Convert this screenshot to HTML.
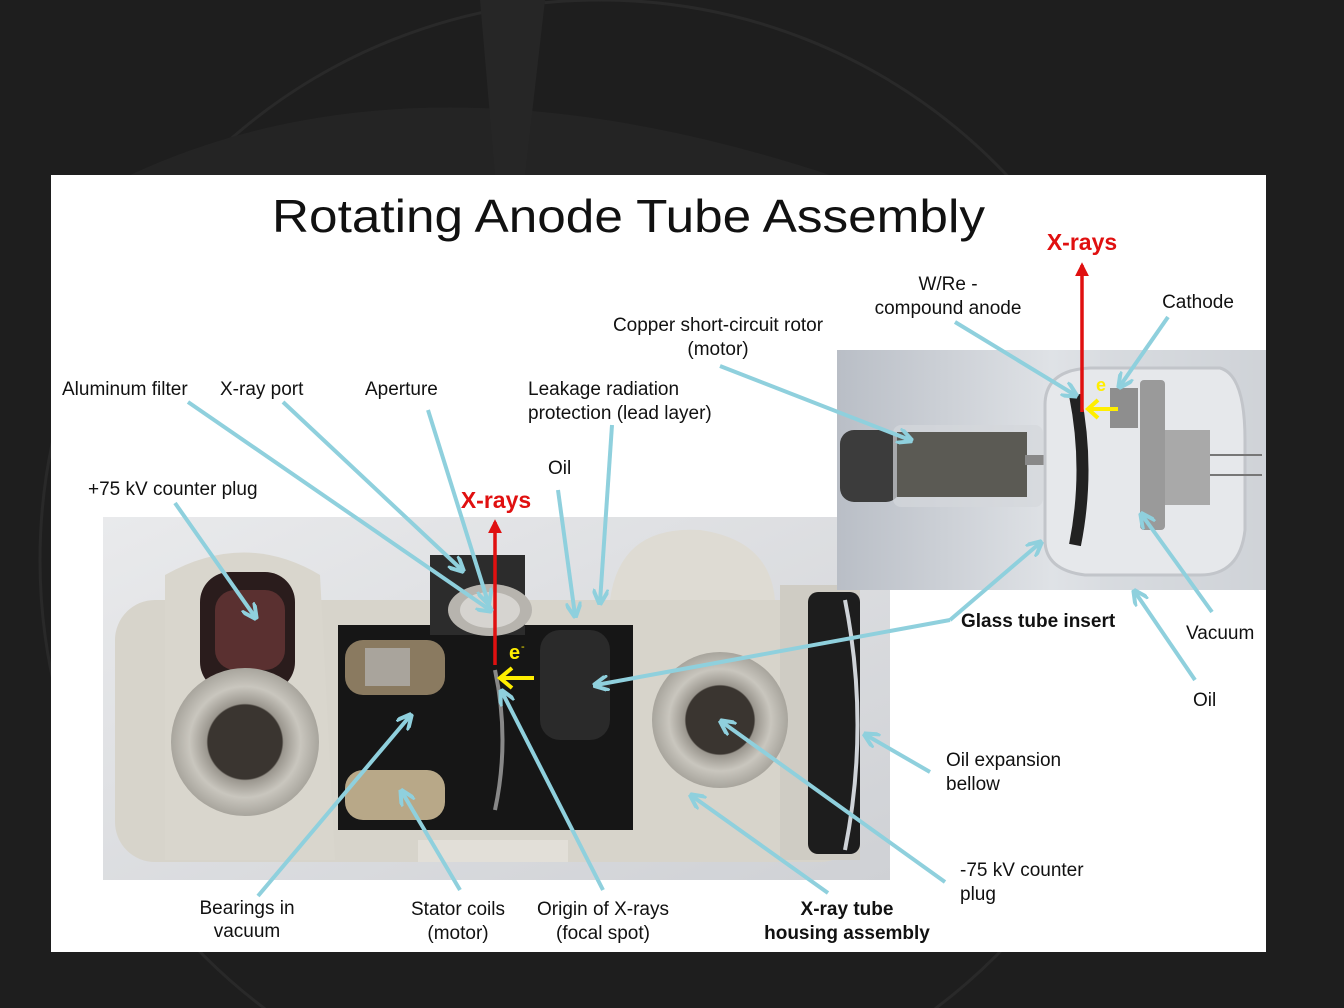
<!DOCTYPE html>
<html><head><meta charset="utf-8"><style>
html,body{margin:0;padding:0;background:#1e1e1e;width:1344px;height:1008px;overflow:hidden;}
svg{display:block;position:absolute;left:0;top:0;}
text{font-family:"Liberation Sans",Arial,sans-serif;fill:#111;}
</style></head><body>
<svg width="1344" height="1008" viewBox="0 0 1344 1008" xmlns="http://www.w3.org/2000/svg">
<defs>
<marker id="ab" viewBox="0 0 10 10" refX="8" refY="5" markerWidth="4" markerHeight="4" orient="auto"><path d="M0,0 L10,5 L0,10" fill="none" stroke="#8fd0dd" stroke-width="2.5"/></marker>
<marker id="ar" viewBox="0 0 10 10" refX="8" refY="5" markerWidth="4" markerHeight="4" orient="auto"><path d="M0,0 L10,5 L0,10 z" fill="#e01010"/></marker>
<linearGradient id="bg1" x1="0" y1="0" x2="1" y2="1"><stop offset="0" stop-color="#e9eaec"/><stop offset="1" stop-color="#cfd1d5"/></linearGradient>
<linearGradient id="bg2" x1="0" y1="0" x2="1" y2="0"><stop offset="0" stop-color="#b9bec6"/><stop offset="0.5" stop-color="#dfe2e6"/><stop offset="1" stop-color="#c9ccd2"/></linearGradient>
<radialGradient id="port"><stop offset="0" stop-color="#3a3530"/><stop offset="0.5" stop-color="#3a3530"/><stop offset="0.52" stop-color="#9a968e"/><stop offset="0.75" stop-color="#c9c6be"/><stop offset="1" stop-color="#a8a59d"/></radialGradient>
</defs>
<rect width="1344" height="1008" fill="#1e1e1e"/>
<circle cx="600" cy="560" r="560" fill="none" stroke="#292929" stroke-width="3"/>
<path d="M130 175 Q420 40 830 175" fill="#242424"/>
<path d="M480 0 L545 0 L525 175 L495 175 Z" fill="#262626"/>
<rect x="51" y="175" width="1215" height="777" fill="#fff"/>
<text x="272" y="232" font-size="46" textLength="713" lengthAdjust="spacingAndGlyphs">Rotating Anode Tube Assembly</text>

<rect x="103" y="517" width="787" height="363" fill="url(#bg1)"/>
<rect x="115" y="600" width="745" height="262" rx="40" fill="#d7d4cb"/>
<path d="M165 575 Q245 530 320 575 L335 860 L165 860 Z" fill="#d9d6cd"/>
<rect x="200" y="572" width="95" height="120" rx="30" fill="#2a1c1c"/>
<rect x="215" y="590" width="70" height="80" rx="20" fill="#5a3030"/>
<circle cx="245" cy="742" r="74" fill="url(#port)"/>
<path d="M610 600 Q620 525 700 530 Q770 540 775 600 Z" fill="#dedbd3"/>
<rect x="338" y="625" width="295" height="205" fill="#161616"/>
<rect x="345" y="640" width="100" height="55" rx="18" fill="#8a7a60"/>
<rect x="365" y="648" width="45" height="38" fill="#a9a49c"/>
<rect x="345" y="770" width="100" height="50" rx="18" fill="#b8a888"/>
<rect x="430" y="555" width="95" height="80" fill="#2c2c2c"/>
<ellipse cx="490" cy="610" rx="42" ry="26" fill="#b7b4ae"/>
<ellipse cx="490" cy="610" rx="30" ry="18" fill="#d6d4d0"/>
<path d="M495 670 Q510 740 495 810" stroke="#888" stroke-width="4" fill="none"/>
<rect x="540" y="630" width="70" height="110" rx="20" fill="#2a2a2a"/>
<rect x="780" y="585" width="80" height="275" fill="#cfccc4"/>
<rect x="808" y="592" width="52" height="262" rx="10" fill="#1d1d1d"/>
<path d="M845 600 Q870 725 845 850" stroke="#cfd3d8" stroke-width="4" fill="none"/>
<circle cx="720" cy="720" r="68" fill="url(#port)"/>
<rect x="418" y="840" width="150" height="22" fill="#e2dfd8"/>

<rect x="837" y="350" width="429" height="240" fill="url(#bg2)"/>
<rect x="1100" y="350" width="166" height="240" fill="#d6d9de" opacity="0.5"/>
<rect x="840" y="430" width="60" height="72" rx="14" fill="#3c3c3c"/>
<rect x="893" y="425" width="150" height="82" rx="8" fill="#d4d7db" opacity="0.7"/>
<rect x="897" y="432" width="130" height="65" fill="#5b5a54"/>
<rect x="1025" y="455" width="70" height="10" fill="#888"/>
<path d="M1045 405 Q1045 370 1090 368 L1220 368 Q1245 375 1245 440 L1245 530 Q1240 575 1200 575 L1085 575 Q1045 570 1045 540 Z" fill="#e6e8eb" stroke="#c2c5ca" stroke-width="3"/>
<path d="M1075 395 Q1090 470 1075 545" stroke="#222" stroke-width="12" fill="none"/>
<rect x="1110" y="388" width="28" height="40" fill="#8e8e8e"/>
<rect x="1140" y="380" width="25" height="150" rx="4" fill="#9a9a9a"/>
<rect x="1165" y="430" width="45" height="75" fill="#a9a9a9"/>
<line x1="1210" y1="455" x2="1262" y2="455" stroke="#777" stroke-width="2"/>
<line x1="1210" y1="475" x2="1262" y2="475" stroke="#777" stroke-width="2"/>

<line x1="495" y1="665" x2="495" y2="522" stroke="#e01010" stroke-width="3.5" marker-end="url(#ar)"/>
<line x1="1082" y1="412" x2="1082" y2="265" stroke="#e01010" stroke-width="3.5" marker-end="url(#ar)"/>
<text x="496" y="508" font-size="23" font-weight="bold" text-anchor="middle" style="fill:#e01010">X-rays</text>
<text x="1082" y="250" font-size="23" font-weight="bold" text-anchor="middle" style="fill:#e01010">X-rays</text>
<text x="509" y="659" font-size="20" font-weight="bold" style="fill:#ffee00">e</text><text x="521" y="650" font-size="11" style="fill:#ffee00">-</text>
<path d="M512 668 L500 678 L512 688 M502 678 L534 678" stroke="#ffee00" stroke-width="4" fill="none"/>
<text x="1096" y="391" font-size="18" font-weight="bold" style="fill:#ffee00">e</text>
<path d="M1098 400 L1088 409 L1098 418 M1090 409 L1118 409" stroke="#ffee00" stroke-width="4" fill="none"/>

<g stroke="#8fd0dd" stroke-width="4" fill="none" marker-end="url(#ab)">
<line x1="188" y1="402" x2="490" y2="610"/>
<line x1="283" y1="402" x2="462" y2="570"/>
<line x1="428" y1="410" x2="488" y2="602"/>
<line x1="612" y1="425" x2="600" y2="602"/>
<line x1="558" y1="490" x2="575" y2="615"/>
<line x1="175" y1="503" x2="255" y2="617"/>
<line x1="720" y1="366" x2="910" y2="440"/>
<line x1="955" y1="322" x2="1075" y2="395"/>
<line x1="1168" y1="317" x2="1120" y2="386"/>
<line x1="950" y1="620" x2="1040" y2="543"/>
<line x1="950" y1="620" x2="596" y2="685"/>
<line x1="1212" y1="612" x2="1142" y2="515"/>
<line x1="1195" y1="680" x2="1135" y2="592"/>
<line x1="930" y1="772" x2="866" y2="735"/>
<line x1="945" y1="882" x2="722" y2="722"/>
<line x1="828" y1="893" x2="692" y2="796"/>
<line x1="603" y1="890" x2="502" y2="692"/>
<line x1="460" y1="890" x2="402" y2="792"/>
<line x1="258" y1="896" x2="410" y2="716"/>
</g>

<g font-size="19">
<text x="62" y="395">Aluminum filter</text>
<text x="220" y="395">X-ray port</text>
<text x="365" y="395">Aperture</text>
<text x="528" y="395">Leakage radiation</text>
<text x="528" y="419">protection (lead  layer)</text>
<text x="548" y="474">Oil</text>
<text x="88" y="495">+75 kV counter plug</text>
<text x="718" y="331" text-anchor="middle">Copper short-circuit rotor</text>
<text x="718" y="355" text-anchor="middle">(motor)</text>
<text x="948" y="290" text-anchor="middle">W/Re -</text>
<text x="948" y="314" text-anchor="middle">compound anode</text>
<text x="1198" y="308" text-anchor="middle">Cathode</text>
<text x="961" y="627" font-weight="bold">Glass tube insert</text>
<text x="1186" y="639">Vacuum</text>
<text x="1193" y="706">Oil</text>
<text x="946" y="766">Oil expansion</text>
<text x="946" y="790">bellow</text>
<text x="960" y="876">-75 kV counter</text>
<text x="960" y="900">plug</text>
<text x="247" y="914" text-anchor="middle">Bearings in</text>
<text x="247" y="937" text-anchor="middle">vacuum</text>
<text x="458" y="915" text-anchor="middle">Stator coils</text>
<text x="458" y="939" text-anchor="middle">(motor)</text>
<text x="603" y="915" text-anchor="middle">Origin of X-rays</text>
<text x="603" y="939" text-anchor="middle">(focal spot)</text>
<text x="847" y="915" text-anchor="middle" font-weight="bold">X-ray tube</text>
<text x="847" y="939" text-anchor="middle" font-weight="bold">housing assembly</text>
</g>
</svg>
</body></html>
